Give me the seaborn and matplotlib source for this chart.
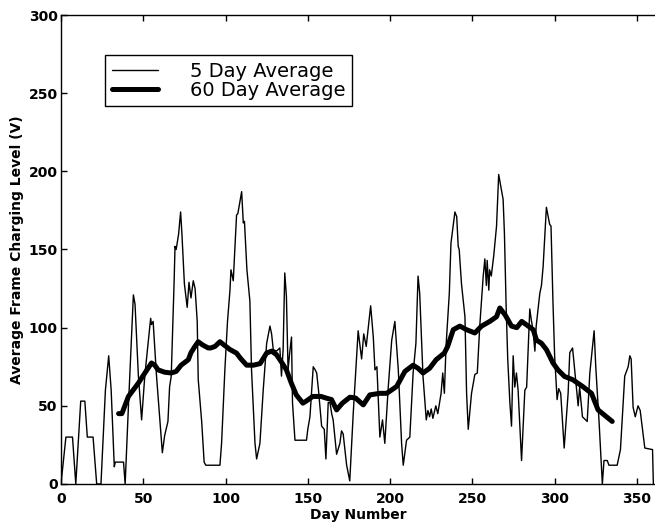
import matplotlib
matplotlib.use("Agg")
import matplotlib.pyplot as plt
import seaborn as sns
import pandas as pd

# 5 day average (day, value)
days5 = [0, 3, 7, 9, 12, 14.5, 16, 19.5, 21.7, 24.3, 27, 29, 30.5, 32.4, 33, 38, 39,
         41, 44, 45, 47, 49, 51, 54.5, 55, 56, 58, 61.6, 63, 65, 66, 67, 68.8, 69.3, 70,
         71.5, 72.7, 73.5, 75, 76.7, 77.8, 79, 80.4, 81.5, 82.8, 83.4, 85.5, 87, 88, 96.6,
         97.6, 99.6, 101.2, 102.7, 103.3, 104.7, 106.7, 107.5, 109.8, 110.8, 111.5, 113,
         114.8, 115.8, 117.9, 118.9, 120.9, 122.9, 125, 127, 128, 129, 131, 133, 134, 135,
         136, 137, 138, 139, 140.1, 140.7, 142.2, 149.2, 150, 151.3, 153.3, 154.5, 155.4,
         156.5, 158.4, 160, 161, 162.4, 163.5, 164.5, 165.4, 167.5, 169.5, 170.5, 171.5,
         173.6, 175.5, 177.6, 180.6, 182.7, 184, 185.5, 188.2, 189.8, 190.8, 192, 193.8,
         195.4, 196.8, 198.9, 201, 202.9, 205, 207, 208, 210, 212, 214, 215.7, 217, 218,
         220, 222, 223, 224, 225, 226, 227.8, 229, 231, 232, 233, 234, 236, 237, 239.4,
         240.5, 241.4, 242, 243.4, 245.5, 246.5, 247.5, 249.5, 251.5, 253, 254.5, 255.6,
         256.6, 257.6, 258.5, 259, 260, 260.5, 261.5, 263, 264.7, 266, 267.7, 268.7, 269.5,
         270.5, 271.5, 272.8, 273.8, 274.8, 275.8, 276.8, 277.8, 279.9, 281.9, 283, 284.9,
         285.8, 286.8, 288, 288.8, 291, 292, 293, 295, 297, 297.8, 299, 300, 301.5, 302.5,
         303.7, 305.8, 308.2, 309.2, 310.9, 312, 314.3, 315.2, 316.9, 319.8, 321.4, 324,
         325, 327, 328.5, 329, 330, 332, 333, 338, 340, 342.6, 344.7, 345.7, 346.5, 347.7,
         349, 350.7, 352, 354.8, 359.5, 360]
vals5 = [0, 30, 30, 0, 53, 53, 30, 30, 0, 0, 60, 82, 60, 11, 14, 14, 0,
         50, 121, 115, 70, 41, 70, 106, 102, 104, 70, 20, 31, 40, 62, 69, 131, 152, 150,
         160, 174, 160, 128, 113, 129, 119, 130, 125, 104, 67, 40, 14, 12, 12,
         26, 73, 104, 124, 137, 130, 172, 173, 187, 167, 168, 137,
         117, 73, 26, 16, 26, 60, 90, 101, 96, 86, 85, 87, 69, 86,
         135, 120, 73, 84, 94, 52, 28, 28, 35, 43, 75, 73, 71,
         60, 37, 35, 16, 52, 52, 45, 41, 19, 26, 34, 32,
         12, 2, 45, 98, 80, 96, 88, 114, 94, 73, 75, 30,
         41, 26, 62, 92, 104, 73, 26, 12, 28, 30, 71, 90, 133, 122,
         69, 41, 47, 43, 48, 42, 50, 45, 58, 71, 58, 88, 122, 154, 174,
         171, 152, 150, 128, 107, 58, 35, 58, 70, 71, 101, 118,
         133, 144, 127, 143, 124, 137, 133, 146, 165, 198, 188, 182, 160,
         115, 80, 52, 37, 82, 62, 71, 60, 15, 60, 62, 112,
         105, 99, 85, 101, 122, 127, 139, 177, 166, 165, 116, 82, 54, 61,
         58, 23, 58, 84, 87, 75, 50, 62, 43, 40, 71, 98,
         75, 40, 10, 0, 15, 15, 12, 12, 22, 69, 75, 82, 80, 49,
         43, 50, 47, 23, 22, 0]

# 60 day average (day, value)
days60 = [35, 37, 41, 47, 51, 55, 57, 59, 63, 67, 70, 73, 77.4, 79, 81.4, 83.4, 86, 89.5,
          91, 93.6, 96.6, 99, 102.7, 106.7, 109, 112.8, 117, 121, 125, 128, 131, 134, 137,
          140, 143, 147, 149, 153, 158, 161, 164.4, 167.5, 171, 175.6, 179, 183.7, 187.7,
          193.8, 198, 204, 209, 214, 217, 220, 224, 228, 233, 235, 238.4, 242.4, 246.5,
          251.5, 255.6, 260.6, 264.7, 266.7, 270, 273.8, 277, 280, 284, 287, 289, 292, 295,
          299, 302, 306, 311, 317, 322.4, 326.4, 331.5, 335]
vals60 = [45, 45, 56, 64.5, 71, 77.4, 76, 73, 71.5, 71, 72, 76, 79.5, 84, 88, 91, 89, 87,
          87, 88, 91, 89, 86, 83.7, 80.5, 76, 76, 77, 83.8, 85, 82.7, 78, 73,
          64.5, 57, 51.7, 53, 56, 56, 55, 54, 47.4, 51.7, 55.5, 55, 50.6, 57,
          58, 58, 62.4, 72, 76, 74, 71, 74, 79.5, 83.8, 88, 98.7, 101, 98.7,
          96.6, 101, 104, 107, 112.6, 108, 101, 100, 104, 101, 98.7, 92, 90, 86,
          77.4, 73, 68.8, 66.7, 62.4, 58, 47.4, 43, 40]

xticks = [0, 50, 100, 150, 200, 250, 300, 350]
yticks = [0, 50, 100, 150, 200, 250, 300]
label5 = "5 Day Average"
label60 = "60 Day Average"
xlabel = "Day Number"
ylabel = "Average Frame Charging Level (V)"

sns.set_theme(style="ticks")
plt.rcParams["font.family"] = ["DejaVu Sans"]

df5 = pd.DataFrame({"day": days5, "value": vals5})
df60 = pd.DataFrame({"day": days60, "value": vals60})

fig = plt.figure(figsize=(6.55, 5.23), dpi=100)
ax = fig.add_axes([0.0931, 0.0746, 0.9069, 0.8967])

sns.lineplot(data=df5, x="day", y="value", ax=ax, color="black", lw=1.0,
             estimator=None, label=label5)
sns.lineplot(data=df60, x="day", y="value", ax=ax, color="black", lw=3.6,
             estimator=None, label=label60)

ax.set_xlim(0, 361)
ax.set_ylim(0, 300)
ax.set_xticks(xticks)
ax.set_yticks(yticks)
ax.set_xticklabels([str(t) for t in xticks], fontweight="bold", fontsize=10)
ax.set_yticklabels([str(t) for t in yticks], fontweight="bold", fontsize=10)
ax.tick_params(axis="both", direction="in", length=4, width=1, colors="black")
ax.tick_params(axis="x", pad=6, top=True, bottom=True)
ax.tick_params(axis="y", pad=2.5, left=True, right=False)
ax.set_xlabel(xlabel, fontweight="bold", fontsize=10, labelpad=1, color="black")
ax.set_ylabel(ylabel, fontweight="bold", fontsize=10, labelpad=3, color="black")

for side in ["left", "bottom", "top"]:
    ax.spines[side].set_color("black")
    ax.spines[side].set_linewidth(1.0)
ax.spines["right"].set_visible(False)

leg = ax.legend(loc="upper left", bbox_to_anchor=(0.074, 0.915), borderaxespad=0,
                fontsize=14, frameon=True, fancybox=False, shadow=False,
                handlelength=2.4, handletextpad=1.6, labelspacing=0.0,
                borderpad=0.35)
leg.get_frame().set_edgecolor("black")
leg.get_frame().set_linewidth(1.0)
leg.get_frame().set_alpha(1)
for t in leg.get_texts():
    t.set_color("black")

fig.savefig("out.png", dpi=100)
